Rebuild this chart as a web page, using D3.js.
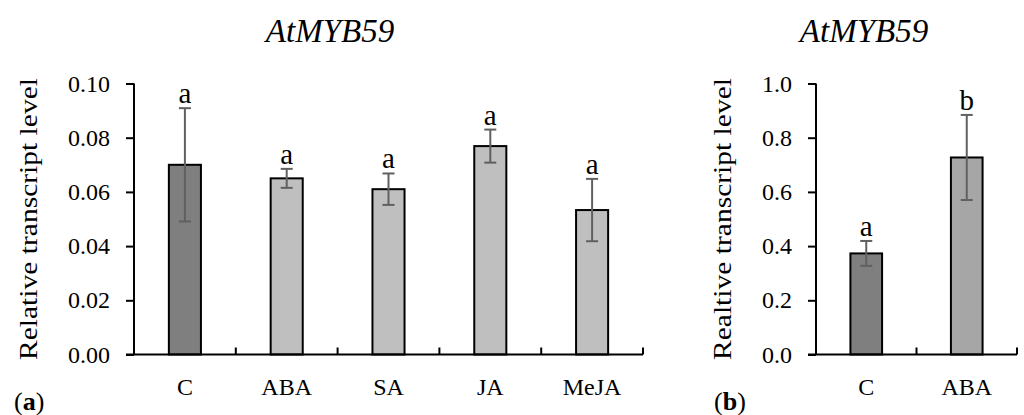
<!DOCTYPE html>
<html><head><meta charset="utf-8">
<script src="https://cdn.jsdelivr.net/npm/d3@7"></script>
<style>body{margin:0;background:#fff}svg{display:block}text{font-family:"Liberation Serif","Times New Roman",serif;fill:#000}</style>
</head><body><svg id="c" width="1024" height="415"></svg>
<script>
const titleText = "AtMYB59";
const aCategories = ["C","ABA","SA","JA","MeJA"];
const aValues = [0.0700, 0.0650, 0.0610, 0.0769, 0.0533];
const aErrors = [0.0209, 0.0035, 0.0058, 0.0061, 0.0115];
const aLetters = ["a","a","a","a","a"];
const aColors = ["#7f7f7f","#bfbfbf","#bfbfbf","#bfbfbf","#bfbfbf"];
const aTicks = [0,0.02,0.04,0.06,0.08,0.10];
const bCategories = ["C","ABA"];
const bValues = [0.373, 0.727];
const bErrors = [0.046, 0.157];
const bLetters = ["a","b"];
const bColors = ["#7f7f7f","#a6a6a6"];
const bTicks = [0,0.2,0.4,0.6,0.8,1.0];

const svg = d3.select("#c");

function panel(o){
  const g = svg.append("g");
  const x = d3.scaleBand().domain(o.cats).range([o.x0,o.x1]).padding(0);
  const y = d3.scaleLinear().domain([0,o.max]).range([354.5,83.5]);
  const bw = x.step()*0.315;
  g.append("text").attr("x",o.tx).attr("y",42).attr("text-anchor","middle")
    .style("font-style","italic").style("font-size","33px").text(titleText);
  g.append("text").attr("transform",`translate(${o.lx},219) rotate(-90)`)
    .attr("text-anchor","middle").style("font-size","26px")
    .attr("textLength",282).attr("lengthAdjust","spacingAndGlyphs").text(o.ylabel);
  g.selectAll("rect.bar").data(o.vals).join("rect")
    .attr("x",(d,i)=>x(o.cats[i])+x.bandwidth()/2-bw/2)
    .attr("width",bw).attr("y",d=>y(d)).attr("height",d=>y(0)-y(d))
    .attr("fill",(d,i)=>o.colors[i]).attr("stroke","#000").attr("stroke-width",2);
  const eg = g.append("g").attr("stroke","#606060").attr("stroke-width",2);
  o.vals.forEach((v,i)=>{
    const cx = x(o.cats[i])+x.bandwidth()/2;
    const t = y(v+o.errs[i]), b = y(v-o.errs[i]);
    eg.append("line").attr("x1",cx).attr("x2",cx).attr("y1",t).attr("y2",b);
    eg.append("line").attr("x1",cx-6).attr("x2",cx+6).attr("y1",t).attr("y2",t);
    eg.append("line").attr("x1",cx-6).attr("x2",cx+6).attr("y1",b).attr("y2",b);
    g.append("text").attr("x",cx).attr("y",t-5).attr("text-anchor","middle")
      .style("font-size","29px").text(o.letters[i]);
  });
  const ya = g.append("g").attr("transform",`translate(${o.x0},0)`)
    .call(d3.axisLeft(y).tickValues(o.ticks).tickFormat(d3.format(o.fmt)).tickSize(8).tickPadding(16));
  ya.selectAll("path,line").attr("stroke","#000").attr("stroke-width",2);
  ya.select("path").attr("d",`M0,${y(o.max)}V${y(0)}`);
  ya.selectAll("text").style("font-size","24px").style("font-family",'"Liberation Serif",serif').attr("fill","#000");
  const xa = g.append("g").attr("transform",`translate(0,${y(0)})`);
  xa.append("line").attr("x1",o.x0-8).attr("x2",o.x1).attr("y1",0).attr("y2",0)
    .attr("stroke","#000").attr("stroke-width",2);
  o.cats.forEach(c=>{
    const xr = x(c)+x.step();
    xa.append("line").attr("x1",xr).attr("x2",xr).attr("y1",0).attr("y2",-7)
      .attr("stroke","#000").attr("stroke-width",2);
    xa.append("text").attr("x",x(c)+x.bandwidth()/2).attr("y",40).attr("text-anchor","middle")
      .style("font-size","24px").text(c);
  });
  const pl = g.append("text").attr("x",o.px).attr("y",410).style("font-size","26px");
  pl.append("tspan").text("(");
  pl.append("tspan").style("font-weight","bold").text(o.plabel);
  pl.append("tspan").text(")");
}

panel({cats:aCategories,vals:aValues,errs:aErrors,letters:aLetters,colors:aColors,ticks:aTicks,
  max:0.10,fmt:".2f",x0:134,x1:643,tx:330,lx:37,ylabel:"Relative transcript level",px:14,plabel:"a"});
panel({cats:bCategories,vals:bValues,errs:bErrors,letters:bLetters,colors:bColors,ticks:bTicks,
  max:1.0,fmt:".1f",x0:816,x1:1017,tx:864,lx:731,ylabel:"Realtive transcript level",px:714,plabel:"b"});
</script></body></html>
